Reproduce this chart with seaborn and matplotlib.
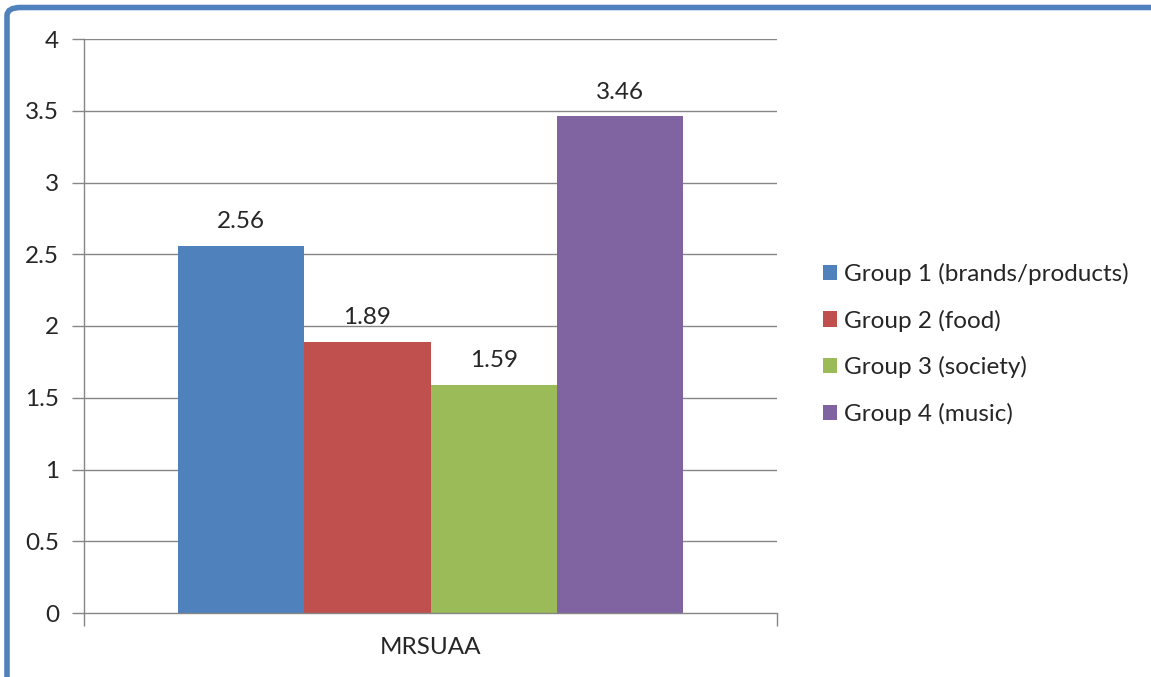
import matplotlib
matplotlib.use("Agg")
import matplotlib.pyplot as plt
from matplotlib.patches import FancyBboxPatch
import seaborn as sns
import pandas as pd

# Chart data
category = "MRSUAA"
groups = ["Group 1 (brands/products)", "Group 2 (food)", "Group 3 (society)", "Group 4 (music)"]
values = [2.56, 1.89, 1.59, 3.46]
colors = ["#4F81BD", "#C0504D", "#9BBB59", "#8064A2"]
y_ticks = [0, 0.5, 1, 1.5, 2, 2.5, 3, 3.5, 4]
y_tick_labels = ["0", "0.5", "1", "1.5", "2", "2.5", "3", "3.5", "4"]

sns.set_style("white")
plt.rcParams["font.family"] = ["Lato", "DejaVu Sans"]
FS = 17.5

df = pd.DataFrame({"cat": [category] * len(groups), "group": groups, "value": values})

fig = plt.figure(figsize=(11.51, 6.77), dpi=100)
ax = fig.add_axes([84 / 1151, 64 / 677, 693 / 1151, 574 / 677])

sns.barplot(data=df, x="cat", y="value", hue="group", hue_order=groups,
            palette=colors, width=0.73, saturation=1, linewidth=0, ax=ax, legend=True)

grid_color = "#868686"
ax.set_ylim(0, 4)
ax.set_xlim(-0.5, 0.5)
ax.set_yticks(y_ticks)
ax.set_yticklabels(y_tick_labels, fontsize=FS)
for y in y_ticks[1:]:
    ax.axhline(y, color=grid_color, lw=1, zorder=0)
ax.set_axisbelow(True)

# category axis ticks at boundaries, label in the middle
ax.set_xticks([-0.5, 0.5])
ax.set_xticklabels(["", ""])
ax.text(0, -35 / 574, category, transform=ax.get_xaxis_transform(), ha="center",
        va="center", fontsize=FS)
ax.tick_params(axis="both", which="both", direction="out", length=9, width=1,
               color=grid_color, pad=8, left=True, bottom=True)
ax.tick_params(axis="y", pad=9)
for side in ["top", "right"]:
    ax.spines[side].set_visible(False)
for side in ["left", "bottom"]:
    ax.spines[side].set_color(grid_color)
    ax.spines[side].set_linewidth(1)
ax.set_xlabel("")
ax.set_ylabel("")

# value labels
for cont in ax.containers:
    ax.bar_label(cont, fmt="%.2f", padding=10, fontsize=FS)

handles, labels = ax.get_legend_handles_labels()
ax.legend(handles, labels, loc="center left", bbox_to_anchor=(801 / 1151, 1 - 344 / 677),
          bbox_transform=fig.transFigure, frameon=False, fontsize=FS,
          handlelength=0.58, handleheight=0.58, handletextpad=0.3, labelspacing=1.02)

# blue outline of the chart frame
frame = FancyBboxPatch((7 / 1151, -0.2), 1.3, 1.2 - 7.5 / 677,
                       boxstyle="round,pad=0,rounding_size=0.012",
                       transform=fig.transFigure, fill=False,
                       edgecolor="#4F81BD", lw=4, clip_on=False)
fig.patches.append(frame)

fig.savefig("out.png", dpi=100)
